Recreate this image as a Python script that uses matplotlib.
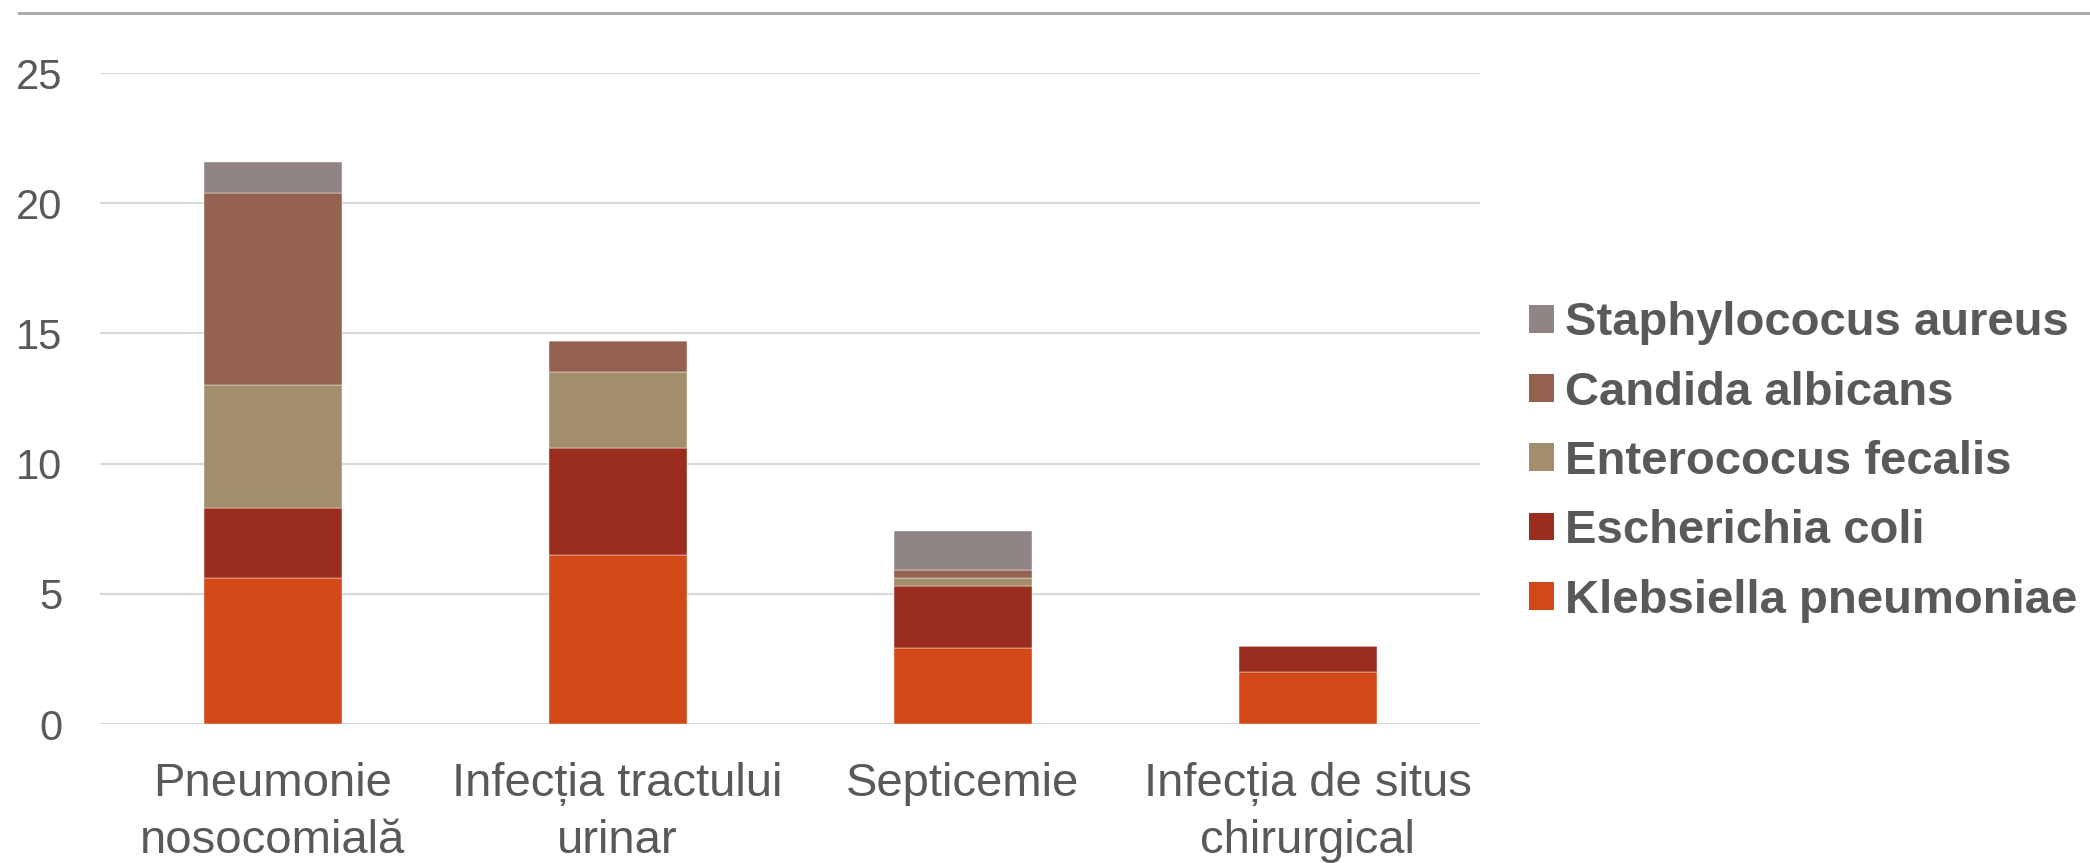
import matplotlib
matplotlib.use("agg")
import matplotlib.pyplot as plt
from matplotlib.lines import Line2D
from matplotlib.patches import Patch
import numpy as np

categories = ["Pneumonie\nnosocomială", "Infecția tractului\nurinar", "Septicemie",
              "Infecția de situs\nchirurgical"]
species = ["Klebsiella pneumoniae", "Escherichia coli", "Enterococus fecalis",
           "Candida albicans", "Staphylococus aureus"]
klebsiella = [5.6, 6.5, 2.9, 2.0]
ecoli = [2.7, 4.1, 2.4, 1.0]
enterococus = [4.7, 2.9, 0.3, 0.0]
candida = [7.4, 1.2, 0.3, 0.0]
staph = [1.2, 0.0, 1.5, 0.0]
series = [klebsiella, ecoli, enterococus, candida, staph]
colors = ["#D34817", "#9B2D1F", "#A28E6A", "#956251", "#918485"]
yticks = [0, 5, 10, 15, 20, 25]

text_color = "#595959"
plt.rcParams["font.family"] = ["Liberation Sans", "DejaVu Sans"]

fig = plt.figure(figsize=(20.9, 8.63), dpi=100)
ax = fig.add_axes([100 / 2090, 1 - 724 / 863, 1380 / 2090, 651 / 863])

x = np.arange(len(categories))
bottom = np.zeros(len(categories))
for vals, col in zip(series, colors):
    ax.bar(x, vals, width=0.4, bottom=bottom, color=col, zorder=3,
           edgecolor="white", linewidth=0.3)
    bottom += np.array(vals)

ax.set_xlim(-0.5, len(categories) - 0.5)
ax.set_ylim(0, 25)
ax.set_yticks(yticks)
ax.yaxis.grid(True, color="#D9D9D9", linewidth=1.5, zorder=0)
ax.set_axisbelow(True)
for s in ax.spines.values():
    s.set_visible(False)
ax.tick_params(axis="both", length=0, colors=text_color)
ax.tick_params(axis="y", pad=27, labelsize=30)
ax.tick_params(axis="x", pad=27, labelsize=34)
ax.set_xticks(x)
ax.set_xticklabels(categories, linespacing=1.4)

handles = [Patch(facecolor=c) for c in colors][::-1]
leg = fig.legend(handles, species[::-1], loc="center left",
                 bbox_to_anchor=(1486 / 2090, 1 - 462 / 863), frameon=False,
                 prop={"size": 34, "weight": "bold"}, handlelength=0.53,
                 handleheight=0.53, handletextpad=0.25, labelspacing=0.535)
for t in leg.get_texts():
    t.set_color(text_color)

fig.add_artist(Line2D([19 / 2090, 1.0], [1 - 13 / 863, 1 - 13 / 863],
                      transform=fig.transFigure, color="#A6A6A6", linewidth=2))

fig.savefig("out.png", dpi=100)
